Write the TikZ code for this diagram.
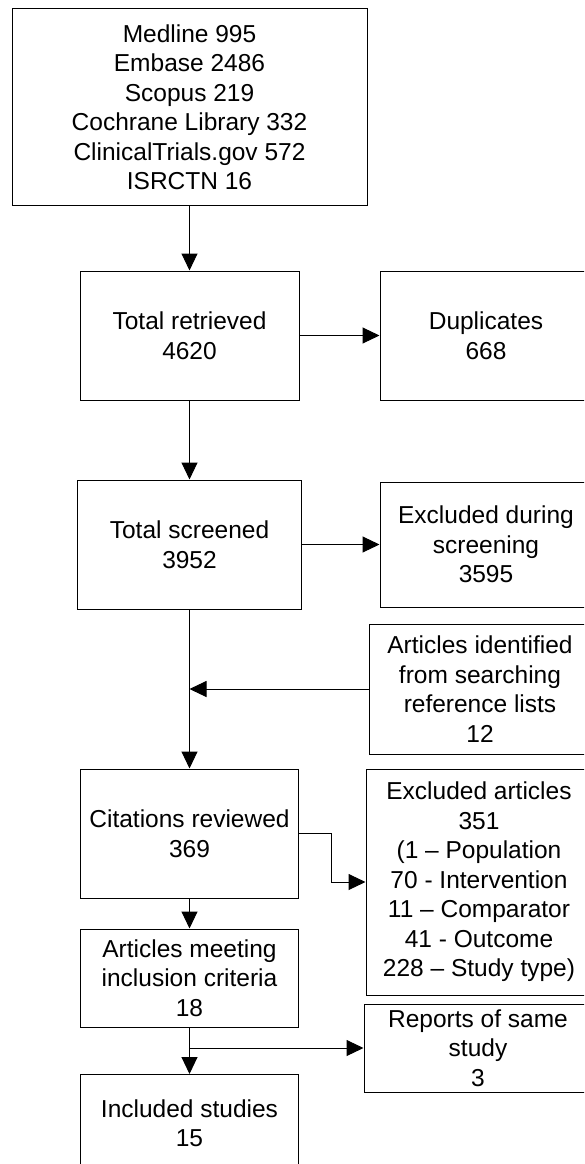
\documentclass[tikz,border=0pt]{standalone}
\usepackage{fontspec}
\setmainfont{Liberation Sans}
\usetikzlibrary{arrows.meta}
\begin{document}
\begin{tikzpicture}[x=1pt,y=-1pt,
  box/.style={draw=black, line width=1pt, rectangle, inner sep=0pt, align=center,
    font=\fontsize{24.5}{29.5}\selectfont},
  arr/.style={draw=black, line width=1pt, -{Triangle[length=17pt,width=16pt]}},
  conn/.style={draw=black, line width=1pt}]
\useasboundingbox (0,0) rectangle (584,1164);
\fill[white] (0,0) rectangle (584,1164);
\clip (0,0) rectangle (584,1164);
% main column
\node[box, minimum width=355pt, minimum height=196pt] (src) at (189.5,107)
  {Medline 995\\Embase 2486\\Scopus 219\\Cochrane Library 332\\ClinicalTrials.gov 572\\ISRCTN 16};
\node[box, minimum width=219pt, minimum height=129pt] (ret) at (189.5,335.5) {Total retrieved\\4620};
\node[box, minimum width=224pt, minimum height=129pt] (scr) at (189.5,544.5) {Total screened\\3952};
\node[box, minimum width=218pt, minimum height=129pt] (cit) at (189.5,833.5) {Citations reviewed\\369};
\node[box, minimum width=218pt, minimum height=98pt] (meet) at (189.5,978) {Articles meeting\\inclusion criteria\\18};
\node[box, minimum width=218pt, minimum height=97pt] (inc) at (189.5,1123) {Included studies\\15};
% right column
\node[box, minimum width=212pt, minimum height=129pt] (dup) at (486,335.5) {Duplicates\\668};
\node[box, minimum width=212pt, minimum height=125pt] (exs) at (486,544.5) {Excluded during\\screening\\3595};
\node[box, minimum width=222pt, minimum height=130pt] (ref) at (480,689) {Articles identified\\from searching\\reference lists\\12};
\node[box, minimum width=226pt, minimum height=226pt] (exa) at (479,882) {Excluded articles\\351\\(1 – Population\\70 - Intervention\\11 – Comparator\\41 - Outcome\\228 – Study type)};
\node[box, minimum width=228pt, minimum height=88pt] (rep) at (478,1048) {Reports of same\\study\\3};
% connectors
\draw[arr] (src.south) -- (ret.north);
\draw[arr] (ret.east) -- (dup.west);
\draw[arr] (ret.south) -- (scr.north);
\draw[arr] (scr.east) -- (scr.east -| exs.west);
\draw[arr] (scr.south) -- (cit.north);
\coordinate (j1) at (scr.south |- ref.west);
\draw[arr] (ref.west) -- (j1);
\coordinate (k1) at (331,833.5);
\draw[arr] (cit.east) -- (k1) |- (exa.west);
\draw[arr] (cit.south) -- (meet.north);
\draw[arr] (meet.south) -- (inc.north);
\coordinate (j2) at (meet.south |- rep.west);
\draw[arr] (j2) -- (rep.west);
\end{tikzpicture}
\end{document}
